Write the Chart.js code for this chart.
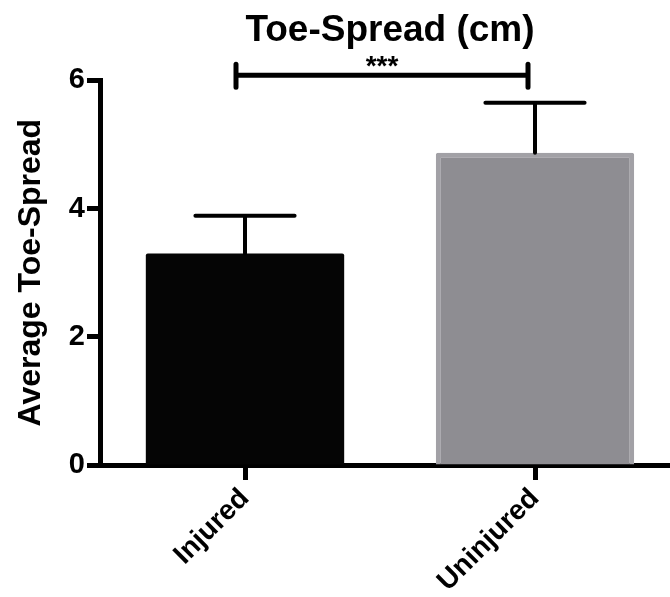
<!DOCTYPE html>
<html>
<head>
<meta charset="utf-8">
<title>Toe-Spread</title>
<script src="https://cdn.jsdelivr.net/npm/chart.js@4"></script>
<style>
  html, body { margin: 0; padding: 0; background: #fff; overflow: hidden; }
  canvas { display: block; }
</style>
</head>
<body>
<canvas id="toeChart" width="680" height="597"></canvas>
<script>
const groups = ['Injured', 'Uninjured'];
const means = [3.30, 4.87];
const errUp = [0.59, 0.78];
const yTicks = [0, 2, 4, 6];
const sigLevel = 6.08;
const sigLabel = '***';

const fontFam = '"Liberation Sans", Arial, Helvetica, sans-serif';

// SEM whiskers (upper only) and the significance bracket
const errorBars = {
    id: 'errorBars',
    afterDatasetsDraw(chart) {
        const ctx = chart.ctx;
        const y = chart.scales.y;
        const bars = chart.getDatasetMeta(0).data;
        ctx.save();
        ctx.strokeStyle = '#000';
        ctx.lineCap = 'round';
        ctx.lineWidth = 4;
        bars.forEach((bar, i) => {
            const top = y.getPixelForValue(means[i] + errUp[i]);
            const half = bar.width / 4;
            ctx.beginPath();
            ctx.moveTo(bar.x, bar.y);
            ctx.lineTo(bar.x, top);
            ctx.moveTo(bar.x - half, top);
            ctx.lineTo(bar.x + half, top);
            ctx.stroke();
        });

        const by = y.getPixelForValue(sigLevel);
        const x1 = bars[0].x - 9;
        const x2 = bars[1].x - 7;
        ctx.lineWidth = 5;
        ctx.beginPath();
        ctx.moveTo(x1, by);
        ctx.lineTo(x2, by);
        ctx.moveTo(x1, by - 11);
        ctx.lineTo(x1, by + 12);
        ctx.moveTo(x2, by - 11);
        ctx.lineTo(x2, by + 12);
        ctx.stroke();

        ctx.fillStyle = '#000';
        ctx.font = 'bold 28px ' + fontFam;
        ctx.textAlign = 'center';
        ctx.textBaseline = 'bottom';
        ctx.fillText(sigLabel, (x1 + x2) / 2, by + 6);
        ctx.restore();
    }
};

const ctx = document.getElementById('toeChart').getContext('2d');
const toeChart = new Chart(ctx, {
    type: 'bar',
    data: {
        labels: groups,
        datasets: [{
            data: means,
            backgroundColor: ['#050505', '#8e8d92'],
            borderColor: ['#050505', '#a2a1a6'],
            borderWidth: [0, 5],
            borderRadius: 2,
            borderSkipped: 'bottom',
            barPercentage: 0.684,
            categoryPercentage: 1.0
        }]
    },
    options: {
        responsive: false,
        animation: false,
        devicePixelRatio: 1,
        layout: { padding: 0 },
        plugins: {
            legend: { display: false },
            tooltip: { enabled: false },
            title: {
                display: true,
                text: 'Toe-Spread (cm)',
                fullSize: false,
                color: '#000',
                font: { family: fontFam, size: 37, weight: 'bold' },
                padding: { top: 9, bottom: 27 }
            }
        },
        scales: {
            x: {
                border: { color: '#000', width: 5 },
                grid: {
                    drawOnChartArea: false,
                    drawTicks: true,
                    tickLength: 15,
                    tickWidth: 5,
                    tickColor: '#000',
                    offset: false
                },
                ticks: {
                    color: '#000',
                    font: { family: fontFam, size: 28, weight: 'bold' },
                    minRotation: 45,
                    maxRotation: 45,
                    padding: 2
                },
                afterFit(scale) { scale.height = 132; }
            },
            y: {
                min: 0,
                max: 6,
                afterBuildTicks(scale) {
                    scale.ticks = yTicks.map(v => ({ value: v }));
                },
                border: { color: '#000', width: 5 },
                grid: {
                    drawOnChartArea: false,
                    drawTicks: true,
                    tickLength: 13,
                    tickWidth: 5,
                    tickColor: '#000'
                },
                ticks: {
                    color: '#000',
                    font: { family: fontFam, size: 29, weight: 'bold' },
                    padding: 2
                },
                title: {
                    display: true,
                    text: 'Average Toe-Spread',
                    color: '#000',
                    font: { family: fontFam, size: 32, weight: 'bold' },
                    padding: { top: 12, bottom: 0 }
                },
                afterFit(scale) { scale.width = 100; }
            }
        }
    },
    plugins: [errorBars]
});
</script>
</body>
</html>
